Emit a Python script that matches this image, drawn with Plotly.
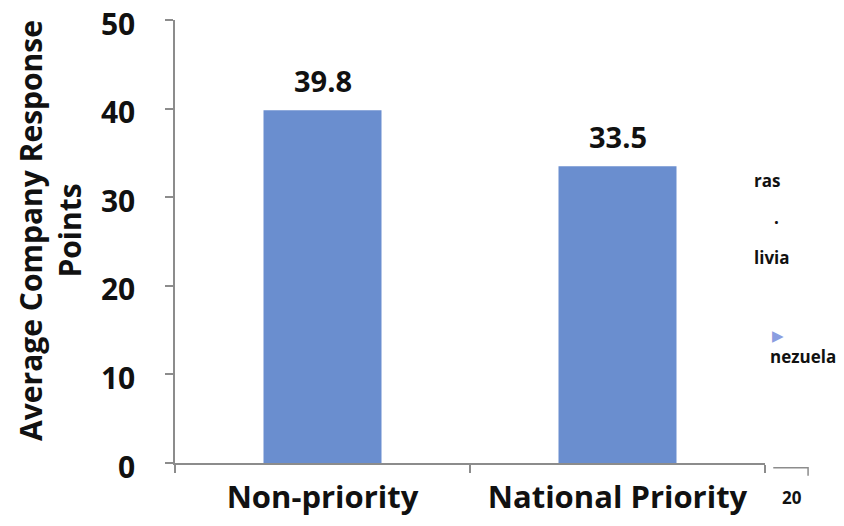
import plotly.graph_objects as go

categories = ["Non-priority", "National Priority"]
values = [39.8, 33.5]
value_labels = ["39.8", "33.5"]
y_ticks = [0, 10, 20, 30, 40, 50]
y_title = "Average Company Response<br>Points"

FONT = "Open Sans"
AXIS = "#8c8c8c"
INK = "#111111"

fig = go.Figure()
fig.add_trace(go.Bar(
    x=categories, y=values, width=0.4,
    marker=dict(color="#6a8ecf", line=dict(width=0)),
    hoverinfo="x+y",
))

# value labels above bars
for cat, val, lab in zip(categories, values, value_labels):
    fig.add_annotation(text=lab, x=cat, y=val, xref="x", yref="y",
                       yanchor="bottom", yshift=8, showarrow=False,
                       font=dict(family=FONT, size=29, color=INK, weight="bold"))

# y-axis title
fig.add_annotation(text=y_title, x=-0.212, y=0.526, xref="paper", yref="paper",
                   textangle=-90, xanchor="center", yanchor="middle",
                   showarrow=False, align="center",
                   font=dict(family=FONT, size=30, color=INK, weight="bold"))

# stray legend fragments from an overlapping chart at the right edge
stray = [
    ("ras", 0.978, 0.637, 17),
    ("·", 1.012, 0.544, 17),
    ("livia", 0.978, 0.463, 17),
    ("nezuela", 1.005, 0.240, 17),
]
for txt, xp, yp, fs in stray:
    fig.add_annotation(text=txt, x=xp, y=yp, xref="paper", yref="paper",
                       xanchor="left", yanchor="middle", showarrow=False,
                       font=dict(family=FONT, size=fs, color=INK, weight="bold"))
fig.add_annotation(text="▶", x=1.008, y=0.290, xref="paper", yref="paper",
                   xanchor="left", yanchor="middle", showarrow=False,
                   font=dict(family=FONT, size=15, color="#8a9ee0"))
fig.add_annotation(text="20", x=1.046, y=-0.077, xref="paper", yref="paper",
                   xanchor="center", yanchor="middle", showarrow=False,
                   font=dict(family=FONT, size=17, color=INK, weight="bold"))
fig.add_shape(type="path", xref="paper", yref="paper",
              path="M 1.014,-0.011 L 1.073,-0.011 L 1.073,-0.029",
              line=dict(color=AXIS, width=1.5))

# page has an 8px body margin, so the figure is 8px smaller on each axis
fig.update_layout(
    width=836, height=518,
    margin=dict(l=167, r=79, t=12, b=63, autoexpand=False),
    paper_bgcolor="white", plot_bgcolor="white",
    showlegend=False,
    xaxis=dict(
        automargin=False,
        showline=True, linecolor=AXIS, linewidth=1.5,
        ticks="outside", tickson="boundaries", ticklen=8, tickcolor=AXIS, tickwidth=1.5,
        tickfont=dict(family=FONT, size=31, color=INK, weight="bold"),
        showgrid=False, ticklabelstandoff=6, ticklabeloverflow="allow",
    ),
    yaxis=dict(
        automargin=False,
        range=[0, 50], tickvals=y_ticks,
        showline=True, linecolor=AXIS, linewidth=1.5,
        ticks="outside", ticklen=8, tickcolor=AXIS, tickwidth=1.5,
        tickfont=dict(family=FONT, size=30, color=INK, weight="bold"),
        showgrid=False, zeroline=False, ticklabelstandoff=24,
        ticklabelshift=4, ticklabeloverflow="allow",
    ),
)

fig.write_html("out.html")
